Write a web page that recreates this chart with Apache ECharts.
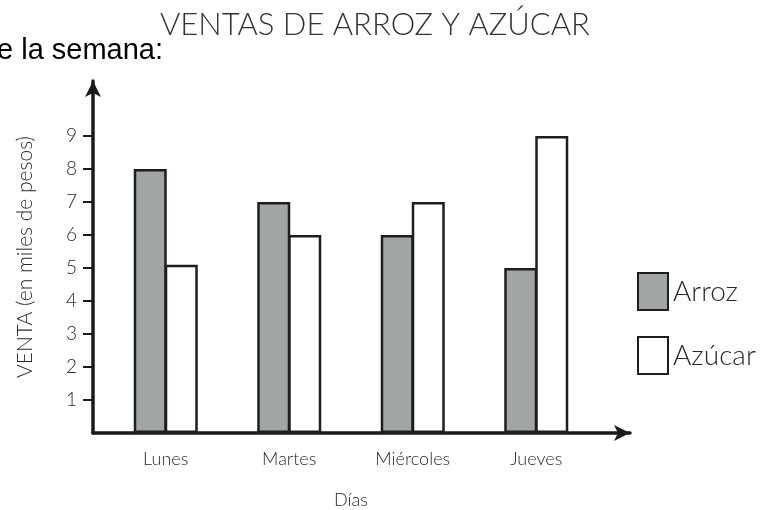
<!DOCTYPE html>
<html>
<head>
<meta charset="utf-8">
<script src="https://cdn.jsdelivr.net/npm/echarts@6/dist/echarts.min.js"></script>
<style>html,body{margin:0;padding:0;background:#fff}#c{width:776px;height:510px}</style>
</head>
<body>
<div id="c"></div>
<script>
const categories = ['Lunes', 'Martes', 'Miércoles', 'Jueves'];
const arroz = [8, 7, 6, 5];
const azucar = [5.1, 6, 7, 9];
const yTicks = [1, 2, 3, 4, 5, 6, 7, 8, 9];
const seriesNames = ['Arroz', 'Azúcar'];
const titleText = 'VENTAS DE ARROZ Y AZÚCAR';
const yName = 'VENTA (en miles de pesos)';
const xName = 'Días';
const fragmentText = 'e la semana:';

const FONT = 'Lato';
const INK = '#1a1a1a';
const TXT = '#2a2a2a';
const YMAX = 10.67;

const chart = echarts.init(document.getElementById('c'), null, {renderer: 'canvas'});
chart.setOption({
  backgroundColor: '#fff',
  animation: false,
  title: {
    text: titleText,
    left: 160, top: 9, padding: 0,
    textStyle: {fontFamily: FONT, fontWeight: 300, fontSize: 31, color: '#333'}
  },
  graphic: [{
    type: 'text', left: -3, top: 36,
    style: {text: fragmentText, font: '29px "Liberation Sans"', fill: '#000'}
  }],
  legend: {
    orient: 'vertical', left: 637, top: 272, padding: 0,
    itemWidth: 30, itemHeight: 37, itemGap: 25,
    icon: 'rect',
    textStyle: {fontFamily: FONT, fontWeight: 300, fontSize: 28, color: TXT},
    data: seriesNames
  },
  grid: [
    {left: 93, right: 146, top: 81, bottom: 77, containLabel: false, outerBoundsMode: 'none'},
    {left: 104, right: 178, top: 81, bottom: 77, containLabel: false, outerBoundsMode: 'none'}
  ],
  xAxis: [
    {gridIndex: 0, type: 'value', min: 0, max: 1,
     axisLine: {show: true, symbol: ['none', 'arrow'], symbolSize: [12, 16], lineStyle: {color: INK, width: 3.5}},
     axisTick: {show: false}, axisLabel: {show: false}, splitLine: {show: false}},
    {gridIndex: 1, type: 'category', data: categories,
     axisLine: {show: false}, axisTick: {show: false},
     axisLabel: {fontFamily: FONT, fontWeight: 300, fontSize: 18, color: TXT, margin: 17},
     name: xName, nameLocation: 'middle', nameGap: 58,
     nameTextStyle: {fontFamily: FONT, fontWeight: 300, fontSize: 18, color: TXT}}
  ],
  yAxis: [
    {gridIndex: 0, type: 'value', min: 0, max: YMAX,
     axisLine: {show: true, symbol: ['none', 'arrow'], symbolSize: [12, 16], lineStyle: {color: INK, width: 3.5}},
     axisTick: {show: true, customValues: yTicks, length: 10, lineStyle: {color: INK, width: 2}},
     axisLabel: {customValues: yTicks, fontFamily: FONT, fontWeight: 300, fontSize: 19, color: TXT, margin: 16},
     splitLine: {show: false},
     name: yName, nameLocation: 'middle', nameGap: 57, nameRotate: 90,
     nameTextStyle: {fontFamily: FONT, fontWeight: 300, fontSize: 21, color: TXT}},
    {gridIndex: 1, type: 'value', min: 0, max: YMAX, show: false}
  ],
  series: [
    {name: seriesNames[0], type: 'bar', xAxisIndex: 1, yAxisIndex: 1, data: arroz,
     barWidth: 33, barGap: '-6%',
     itemStyle: {color: '#a1a6a3', borderColor: '#1e1e1e', borderWidth: 2.5}},
    {name: seriesNames[1], type: 'bar', xAxisIndex: 1, yAxisIndex: 1, data: azucar,
     barWidth: 33, barGap: '-6%',
     itemStyle: {color: '#ffffff', borderColor: '#1e1e1e', borderWidth: 2.5}}
  ]
});
</script>
</body>
</html>
